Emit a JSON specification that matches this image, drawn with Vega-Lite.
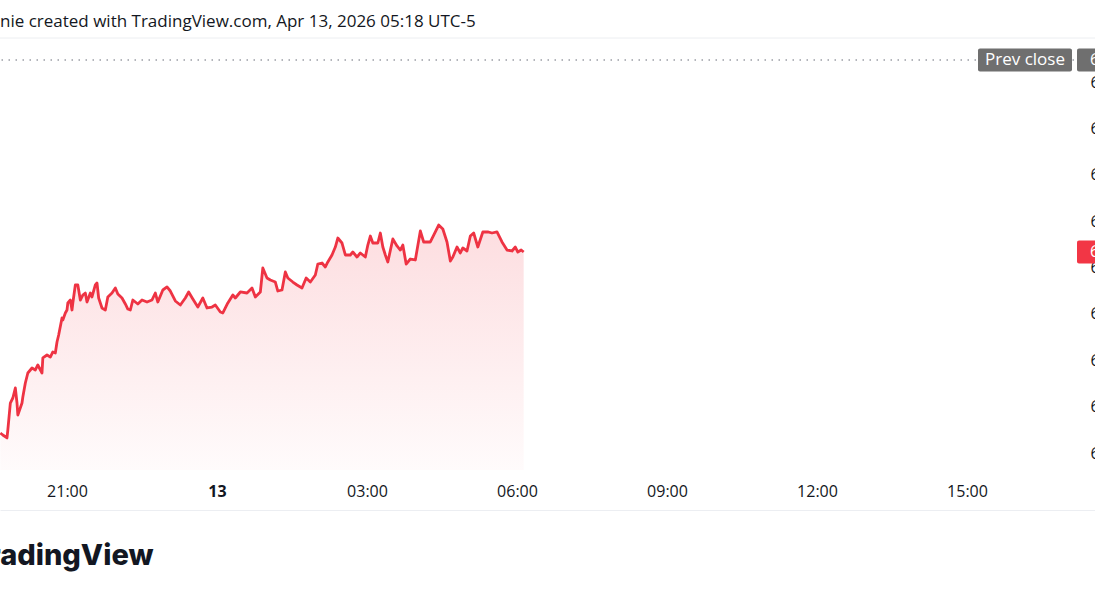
{
  "$schema": "https://vega.github.io/schema/vega-lite/v6.json",
  "autosize": {"type": "none"},
  "width": 1095,
  "height": 470,
  "padding": {"left": 0, "right": 0, "top": 40, "bottom": 90},
  "background": "#ffffff",
  "config": {"view": {"stroke": null}, "font": "Open Sans"},
  "title": {
    "text": "nie created with TradingView.com, Apr 13, 2026 05:18 UTC-5",
    "anchor": "start",
    "frame": "group",
    "font": "Open Sans",
    "fontSize": 17,
    "fontWeight": "normal",
    "color": "#131722",
    "baseline": "alphabetic",
    "offset": 13,
    "dy": 19
  },
  "datasets": {
    "prices": [
      {"t": "2026-04-12T19:40:00Z", "price": 6804.31},
      {"t": "2026-04-12T19:43:00Z", "price": 6803.88},
      {"t": "2026-04-12T19:48:00Z", "price": 6803.24},
      {"t": "2026-04-12T19:49:00Z", "price": 6804.96},
      {"t": "2026-04-12T19:52:00Z", "price": 6810.78},
      {"t": "2026-04-12T19:55:00Z", "price": 6811.86},
      {"t": "2026-04-12T19:58:00Z", "price": 6814.02},
      {"t": "2026-04-12T20:00:00Z", "price": 6810.78},
      {"t": "2026-04-12T20:01:00Z", "price": 6808.19},
      {"t": "2026-04-12T20:06:00Z", "price": 6810.78},
      {"t": "2026-04-12T20:07:00Z", "price": 6812.08},
      {"t": "2026-04-12T20:10:00Z", "price": 6815.09},
      {"t": "2026-04-12T20:13:00Z", "price": 6817.25},
      {"t": "2026-04-12T20:18:00Z", "price": 6818.33},
      {"t": "2026-04-12T20:22:00Z", "price": 6817.90},
      {"t": "2026-04-12T20:25:00Z", "price": 6818.98},
      {"t": "2026-04-12T20:30:00Z", "price": 6817.25},
      {"t": "2026-04-12T20:31:00Z", "price": 6820.49},
      {"t": "2026-04-12T20:36:00Z", "price": 6821.13},
      {"t": "2026-04-12T20:40:00Z", "price": 6820.70},
      {"t": "2026-04-12T20:43:00Z", "price": 6821.78},
      {"t": "2026-04-12T20:46:00Z", "price": 6821.56},
      {"t": "2026-04-12T20:48:00Z", "price": 6823.94},
      {"t": "2026-04-12T20:50:00Z", "price": 6825.44},
      {"t": "2026-04-12T20:54:00Z", "price": 6829.11},
      {"t": "2026-04-12T20:55:00Z", "price": 6828.68},
      {"t": "2026-04-12T20:58:00Z", "price": 6830.19},
      {"t": "2026-04-12T21:00:00Z", "price": 6830.84},
      {"t": "2026-04-12T21:01:00Z", "price": 6832.35},
      {"t": "2026-04-12T21:04:00Z", "price": 6832.99},
      {"t": "2026-04-12T21:06:00Z", "price": 6830.84},
      {"t": "2026-04-12T21:07:00Z", "price": 6832.35},
      {"t": "2026-04-12T21:10:00Z", "price": 6836.23},
      {"t": "2026-04-12T21:13:00Z", "price": 6836.23},
      {"t": "2026-04-12T21:16:00Z", "price": 6832.99},
      {"t": "2026-04-12T21:19:00Z", "price": 6834.07},
      {"t": "2026-04-12T21:22:00Z", "price": 6834.50},
      {"t": "2026-04-12T21:24:00Z", "price": 6832.56},
      {"t": "2026-04-12T21:28:00Z", "price": 6834.50},
      {"t": "2026-04-12T21:30:00Z", "price": 6833.64},
      {"t": "2026-04-12T21:34:00Z", "price": 6836.23},
      {"t": "2026-04-12T21:36:00Z", "price": 6836.66},
      {"t": "2026-04-12T21:38:00Z", "price": 6833.42},
      {"t": "2026-04-12T21:42:00Z", "price": 6831.27},
      {"t": "2026-04-12T21:46:00Z", "price": 6830.84},
      {"t": "2026-04-12T21:49:00Z", "price": 6833.64},
      {"t": "2026-04-12T21:54:00Z", "price": 6834.50},
      {"t": "2026-04-12T21:58:00Z", "price": 6835.58},
      {"t": "2026-04-12T22:01:00Z", "price": 6834.29},
      {"t": "2026-04-12T22:06:00Z", "price": 6833.42},
      {"t": "2026-04-12T22:10:00Z", "price": 6832.13},
      {"t": "2026-04-12T22:13:00Z", "price": 6831.05},
      {"t": "2026-04-12T22:16:00Z", "price": 6830.84},
      {"t": "2026-04-12T22:19:00Z", "price": 6832.99},
      {"t": "2026-04-12T22:25:00Z", "price": 6832.13},
      {"t": "2026-04-12T22:30:00Z", "price": 6832.99},
      {"t": "2026-04-12T22:36:00Z", "price": 6832.56},
      {"t": "2026-04-12T22:42:00Z", "price": 6832.99},
      {"t": "2026-04-12T22:46:00Z", "price": 6834.50},
      {"t": "2026-04-12T22:49:00Z", "price": 6832.56},
      {"t": "2026-04-12T22:55:00Z", "price": 6835.15},
      {"t": "2026-04-12T23:00:00Z", "price": 6835.80},
      {"t": "2026-04-12T23:04:00Z", "price": 6834.93},
      {"t": "2026-04-12T23:10:00Z", "price": 6832.78},
      {"t": "2026-04-12T23:16:00Z", "price": 6831.91},
      {"t": "2026-04-12T23:22:00Z", "price": 6833.42},
      {"t": "2026-04-12T23:26:00Z", "price": 6834.72},
      {"t": "2026-04-12T23:31:00Z", "price": 6833.21},
      {"t": "2026-04-12T23:37:00Z", "price": 6831.48},
      {"t": "2026-04-12T23:43:00Z", "price": 6833.42},
      {"t": "2026-04-12T23:48:00Z", "price": 6831.27},
      {"t": "2026-04-12T23:54:00Z", "price": 6831.48},
      {"t": "2026-04-12T23:58:00Z", "price": 6831.91},
      {"t": "2026-04-13T00:04:00Z", "price": 6830.40},
      {"t": "2026-04-13T00:07:00Z", "price": 6830.19},
      {"t": "2026-04-13T00:13:00Z", "price": 6832.35},
      {"t": "2026-04-13T00:19:00Z", "price": 6834.07},
      {"t": "2026-04-13T00:22:00Z", "price": 6833.42},
      {"t": "2026-04-13T00:28:00Z", "price": 6834.72},
      {"t": "2026-04-13T00:36:00Z", "price": 6834.50},
      {"t": "2026-04-13T00:42:00Z", "price": 6835.58},
      {"t": "2026-04-13T00:46:00Z", "price": 6833.64},
      {"t": "2026-04-13T00:52:00Z", "price": 6834.72},
      {"t": "2026-04-13T00:55:00Z", "price": 6839.89},
      {"t": "2026-04-13T01:00:00Z", "price": 6837.74},
      {"t": "2026-04-13T01:04:00Z", "price": 6837.30},
      {"t": "2026-04-13T01:10:00Z", "price": 6836.87},
      {"t": "2026-04-13T01:13:00Z", "price": 6834.93},
      {"t": "2026-04-13T01:18:00Z", "price": 6835.15},
      {"t": "2026-04-13T01:22:00Z", "price": 6839.03},
      {"t": "2026-04-13T01:25:00Z", "price": 6837.74},
      {"t": "2026-04-13T01:31:00Z", "price": 6836.87},
      {"t": "2026-04-13T01:36:00Z", "price": 6836.23},
      {"t": "2026-04-13T01:42:00Z", "price": 6835.58},
      {"t": "2026-04-13T01:47:00Z", "price": 6837.74},
      {"t": "2026-04-13T01:52:00Z", "price": 6836.87},
      {"t": "2026-04-13T01:58:00Z", "price": 6838.38},
      {"t": "2026-04-13T02:01:00Z", "price": 6840.75},
      {"t": "2026-04-13T02:06:00Z", "price": 6840.97},
      {"t": "2026-04-13T02:10:00Z", "price": 6840.11},
      {"t": "2026-04-13T02:13:00Z", "price": 6841.19},
      {"t": "2026-04-13T02:18:00Z", "price": 6842.70},
      {"t": "2026-04-13T02:22:00Z", "price": 6844.42},
      {"t": "2026-04-13T02:25:00Z", "price": 6846.36},
      {"t": "2026-04-13T02:30:00Z", "price": 6845.28},
      {"t": "2026-04-13T02:34:00Z", "price": 6842.70},
      {"t": "2026-04-13T02:40:00Z", "price": 6842.70},
      {"t": "2026-04-13T02:43:00Z", "price": 6843.34},
      {"t": "2026-04-13T02:48:00Z", "price": 6842.26},
      {"t": "2026-04-13T02:52:00Z", "price": 6843.13},
      {"t": "2026-04-13T02:58:00Z", "price": 6842.26},
      {"t": "2026-04-13T03:01:00Z", "price": 6844.85},
      {"t": "2026-04-13T03:04:00Z", "price": 6846.79},
      {"t": "2026-04-13T03:07:00Z", "price": 6845.28},
      {"t": "2026-04-13T03:13:00Z", "price": 6845.28},
      {"t": "2026-04-13T03:16:00Z", "price": 6847.44},
      {"t": "2026-04-13T03:19:00Z", "price": 6844.42},
      {"t": "2026-04-13T03:22:00Z", "price": 6842.70},
      {"t": "2026-04-13T03:25:00Z", "price": 6841.19},
      {"t": "2026-04-13T03:31:00Z", "price": 6846.15},
      {"t": "2026-04-13T03:36:00Z", "price": 6844.64},
      {"t": "2026-04-13T03:40:00Z", "price": 6843.77},
      {"t": "2026-04-13T03:43:00Z", "price": 6844.85},
      {"t": "2026-04-13T03:47:00Z", "price": 6840.75},
      {"t": "2026-04-13T03:52:00Z", "price": 6841.83},
      {"t": "2026-04-13T03:58:00Z", "price": 6841.62},
      {"t": "2026-04-13T04:04:00Z", "price": 6847.87},
      {"t": "2026-04-13T04:08:00Z", "price": 6845.50},
      {"t": "2026-04-13T04:16:00Z", "price": 6845.50},
      {"t": "2026-04-13T04:22:00Z", "price": 6847.66},
      {"t": "2026-04-13T04:26:00Z", "price": 6849.16},
      {"t": "2026-04-13T04:31:00Z", "price": 6848.30},
      {"t": "2026-04-13T04:36:00Z", "price": 6845.50},
      {"t": "2026-04-13T04:40:00Z", "price": 6841.40},
      {"t": "2026-04-13T04:43:00Z", "price": 6842.26},
      {"t": "2026-04-13T04:48:00Z", "price": 6844.42},
      {"t": "2026-04-13T04:52:00Z", "price": 6843.13},
      {"t": "2026-04-13T04:55:00Z", "price": 6844.21},
      {"t": "2026-04-13T05:00:00Z", "price": 6843.56},
      {"t": "2026-04-13T05:04:00Z", "price": 6846.79},
      {"t": "2026-04-13T05:08:00Z", "price": 6847.44},
      {"t": "2026-04-13T05:13:00Z", "price": 6844.42},
      {"t": "2026-04-13T05:19:00Z", "price": 6847.66},
      {"t": "2026-04-13T05:25:00Z", "price": 6847.66},
      {"t": "2026-04-13T05:30:00Z", "price": 6847.44},
      {"t": "2026-04-13T05:36:00Z", "price": 6847.66},
      {"t": "2026-04-13T05:42:00Z", "price": 6845.50},
      {"t": "2026-04-13T05:48:00Z", "price": 6843.77},
      {"t": "2026-04-13T05:54:00Z", "price": 6843.56},
      {"t": "2026-04-13T05:58:00Z", "price": 6844.42},
      {"t": "2026-04-13T06:01:00Z", "price": 6843.34},
      {"t": "2026-04-13T06:05:00Z", "price": 6843.77},
      {"t": "2026-04-13T06:08:00Z", "price": 6843.34}
    ],
    "levels": [
      {"kind": "prev", "label": "Prev close", "price": 6884.74, "color": "#6f6f6f"},
      {"kind": "last", "label": "Last", "price": 6843.34, "color": "#f23645"}
    ]
  },
  "layer": [
    {
      "data": {"name": "prices"},
      "mark": {
        "type": "area",
        "interpolate": "linear",
        "fill": {
          "gradient": "linear",
          "x1": 0, "y1": 0, "x2": 0, "y2": 1,
          "stops": [
            {"offset": 0, "color": "rgba(242,54,69,0.17)"},
            {"offset": 1, "color": "rgba(242,54,69,0.02)"}
          ]
        }
      },
      "encoding": {
        "x": {
          "field": "t",
          "type": "temporal",
          "scale": {
            "type": "utc",
            "domain": [
              {"year": 2026, "month": 4, "date": 12, "hours": 19, "minutes": 39, "seconds": 36, "utc": true},
              {"year": 2026, "month": 4, "date": 13, "hours": 17, "minutes": 33, "seconds": 36, "utc": true}
            ],
            "nice": false
          },
          "axis": {
            "values": [
              {"year": 2026, "month": 4, "date": 12, "hours": 21, "utc": true},
              {"year": 2026, "month": 4, "date": 13, "hours": 0, "utc": true},
              {"year": 2026, "month": 4, "date": 13, "hours": 3, "utc": true},
              {"year": 2026, "month": 4, "date": 13, "hours": 6, "utc": true},
              {"year": 2026, "month": 4, "date": 13, "hours": 9, "utc": true},
              {"year": 2026, "month": 4, "date": 13, "hours": 12, "utc": true},
              {"year": 2026, "month": 4, "date": 13, "hours": 15, "utc": true}
            ],
            "labelExpr": "utchours(datum.value) == 0 ? utcFormat(datum.value, '%-d') : utcFormat(datum.value, '%H:%M')",
            "labelFontWeight": {"condition": {"test": "utchours(datum.value) == 0", "value": "bold"}, "value": "normal"},
            "labelFont": "Open Sans",
            "labelFontSize": 16,
            "labelColor": "#131722",
            "labelPadding": -19,
            "labelBaseline": "middle",
            "labelOverlap": false,
            "labelFlush": false,
            "domain": true,
            "domainColor": "#eceef2",
            "domainWidth": 1,
            "ticks": false,
            "tickSize": 0,
            "grid": false,
            "title": "TradingView",
            "titleX": 153,
            "titleY": 45,
            "titleAlign": "right",
            "titleBaseline": "middle",
            "titleFont": "Inter",
            "titleFontSize": 29,
            "titleFontWeight": 800,
            "titleColor": "#131722"
          }
        },
        "y": {
          "field": "price",
          "type": "quantitative",
          "scale": {"domain": [6787.709, 6889.057], "nice": false, "zero": false},
          "axis": {
            "orient": "right",
            "values": [6800, 6810, 6820, 6830, 6840, 6850, 6860, 6870, 6880],
            "format": ",.2f",
            "labelAlign": "left",
            "labelBaseline": "middle",
            "labelPadding": -5,
            "labelFont": "Open Sans",
            "labelFontSize": 16,
            "labelColor": "#131722",
            "labelOverlap": false,
            "labelFlush": false,
            "domain": false,
            "ticks": false,
            "tickSize": 0,
            "grid": false,
            "title": null
          }
        },
        "y2": {"datum": 6796.334}
      }
    },
    {
      "data": {"name": "prices"},
      "mark": {"type": "line", "color": "#ee3343", "strokeWidth": 2.8, "strokeJoin": "round", "interpolate": "linear"},
      "encoding": {
        "x": {"field": "t", "type": "temporal"},
        "y": {"field": "price", "type": "quantitative"}
      }
    },
    {
      "data": {"values": [{"line": "header"}]},
      "mark": {"type": "rule", "color": "#eceef1", "strokeWidth": 1, "clip": false},
      "encoding": {"y": {"datum": 6889.488}}
    },
    {
      "data": {"name": "levels"},
      "transform": [{"filter": "datum.kind == 'prev'"}],
      "mark": {"type": "rule", "color": "#9a9da5", "strokeWidth": 1.3, "strokeDash": [1.5, 5.5]},
      "encoding": {"y": {"field": "price", "type": "quantitative"}}
    },
    {
      "data": {"name": "levels"},
      "transform": [{"filter": "datum.kind == 'prev'"}],
      "mark": {"type": "tick", "orient": "horizontal", "size": 94, "thickness": 23, "cornerRadius": 2, "opacity": 1},
      "encoding": {
        "x": {"datum": {"year": 2026, "month": 4, "date": 13, "hours": 16, "minutes": 9, "seconds": 36, "utc": true}},
        "y": {"field": "price", "type": "quantitative"},
        "color": {"field": "color", "type": "nominal", "scale": null}
      }
    },
    {
      "data": {"name": "levels"},
      "transform": [{"filter": "datum.kind == 'prev'"}],
      "mark": {"type": "text", "color": "#ffffff", "font": "Open Sans", "fontSize": 17, "align": "center", "baseline": "middle"},
      "encoding": {
        "x": {"datum": {"year": 2026, "month": 4, "date": 13, "hours": 16, "minutes": 9, "seconds": 36, "utc": true}},
        "y": {"field": "price", "type": "quantitative"},
        "text": {"field": "label"}
      }
    },
    {
      "data": {"name": "levels"},
      "mark": {"type": "tick", "orient": "horizontal", "size": 24, "thickness": 23, "cornerRadius": 2, "opacity": 1},
      "encoding": {
        "x": {"datum": {"year": 2026, "month": 4, "date": 13, "hours": 17, "minutes": 26, "seconds": 24, "utc": true}},
        "y": {"field": "price", "type": "quantitative"},
        "color": {"field": "color", "type": "nominal", "scale": null}
      }
    },
    {
      "data": {"name": "levels"},
      "mark": {"type": "text", "color": "#ffffff", "font": "Open Sans", "fontSize": 16, "align": "left", "baseline": "middle"},
      "encoding": {
        "x": {"datum": {"year": 2026, "month": 4, "date": 13, "hours": 17, "minutes": 27, "seconds": 36, "utc": true}},
        "y": {"field": "price", "type": "quantitative"},
        "text": {"field": "price", "type": "quantitative", "format": ",.2f"}
      }
    }
  ]
}
